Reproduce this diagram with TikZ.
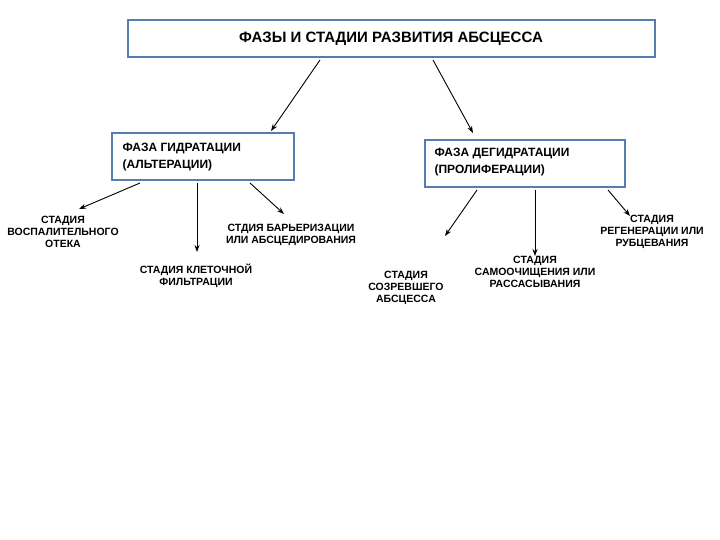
\documentclass[tikz,border=0pt]{standalone}
\usepackage{fontspec}
\setmainfont{Liberation Sans}
\usetikzlibrary{arrows.meta}
\definecolor{bx}{RGB}{85,125,175}
\begin{document}
\begin{tikzpicture}[x=1pt,y=-1pt,
 box/.style={draw=bx,line width=1.6pt,fill=white,inner sep=0pt},
 lbl/.style={font=\fontsize{10.5}{12}\selectfont\bfseries,align=center,inner sep=0pt},
 ar/.style={-{Stealth[length=7pt,width=5pt]},line width=0.9pt}]
\useasboundingbox (0,0) rectangle (720,540);
\fill[white] (0,0) rectangle (720,540);
\draw[box] (128,20) rectangle (655,57);
\node[font=\fontsize{15}{17}\selectfont\bfseries] (t) at (391,39) {ФАЗЫ И СТАДИИ РАЗВИТИЯ АБСЦЕССА};
\draw[box] (112,133) rectangle (294,180);
\node[font=\fontsize{12}{17}\selectfont\bfseries,align=left,anchor=west] (h) at (119,157) {ФАЗА ГИДРАТАЦИИ\\(АЛЬТЕРАЦИИ)};
\draw[box] (425,140) rectangle (625,187);
\node[font=\fontsize{12}{17}\selectfont\bfseries,align=left,anchor=west] (d) at (431,162) {ФАЗА ДЕГИДРАТАЦИИ\\(ПРОЛИФЕРАЦИИ)};
\coordinate (t1) at (320,60); \coordinate (t2) at (433,60);
\coordinate (h1) at (271,131); \coordinate (d1) at (473,133);
\draw[ar] (t1) -- (h1);
\draw[ar] (t2) -- (d1);
\node[lbl] (s1) at (63,232) {СТАДИЯ\\ВОСПАЛИТЕЛЬНОГО\\ОТЕКА};
\node[lbl] (s2) at (196,276) {СТАДИЯ КЛЕТОЧНОЙ\\ФИЛЬТРАЦИИ};
\node[lbl] (s3) at (291,235) {СТДИЯ БАРЬЕРИЗАЦИИ\\ИЛИ АБСЦЕДИРОВАНИЯ};
\node[lbl] (s4) at (406,288) {СТАДИЯ\\СОЗРЕВШЕГО\\АБСЦЕССА};
\node[lbl] (s5) at (535,272) {СТАДИЯ\\САМООЧИЩЕНИЯ ИЛИ\\РАССАСЫВАНИЯ};
\node[lbl] (s6) at (652,232) {СТАДИЯ\\РЕГЕНЕРАЦИИ ИЛИ\\РУБЦЕВАНИЯ};
\coordinate (a1) at (140,183); \coordinate (b1) at (79,209);
\coordinate (a2) at (197,183); \coordinate (b2) at (197,252);
\coordinate (a3) at (250,183); \coordinate (b3) at (284,214);
\coordinate (a4) at (477,190); \coordinate (b4) at (445,236);
\coordinate (a5) at (535,190); \coordinate (b5) at (535,256);
\coordinate (a6) at (608,190); \coordinate (b6) at (630,216);
\foreach \i in {1,...,6}{\draw[ar] (a\i) -- (b\i);}
\end{tikzpicture}
\end{document}
